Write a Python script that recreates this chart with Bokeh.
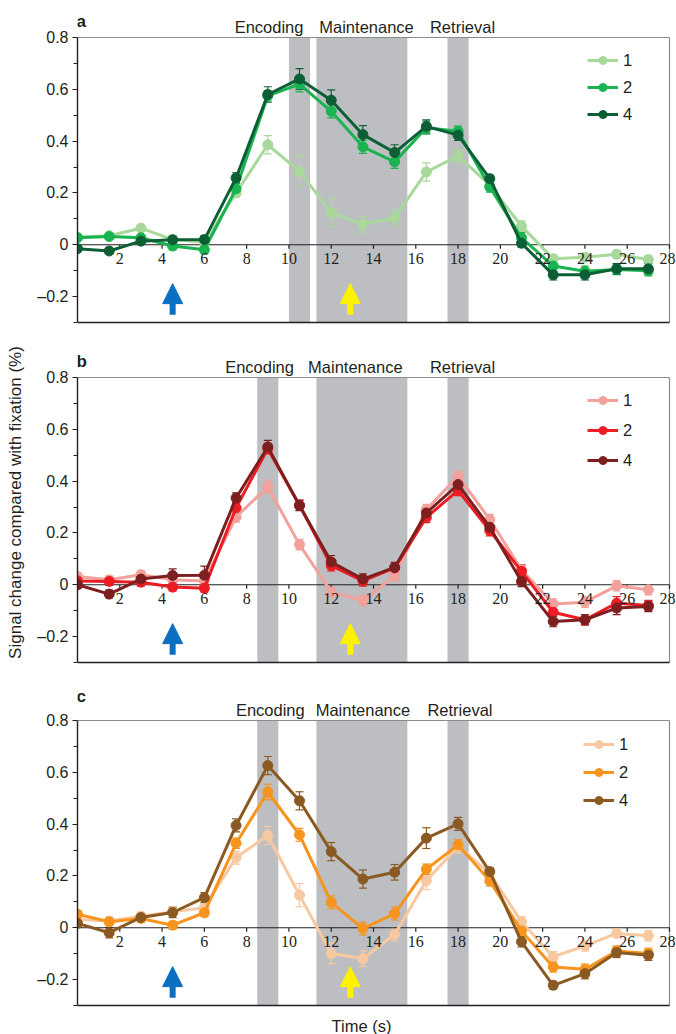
import math
from bokeh.plotting import figure
from bokeh.models import (Range1d, FixedTicker, Span, BoxAnnotation, Label, LabelSet, Legend,
                          LegendItem, Whisker, TeeHead, Arrow, NormalHead, ColumnDataSource,
                          CustomJSTickFormatter)
from bokeh.layouts import column
from bokeh.embed import file_html
from bokeh.resources import INLINE

FONT = "Liberation Sans"
INK = "#231f20"
SHADE = "#bcbec1"
FRAME_GRAY = "#8c8c8c"

# ---------------- data ----------------
time_s = [0, 1.5, 3, 4.5, 6, 7.5, 9, 10.5, 12, 13.5, 15, 16.5, 18, 19.5, 21, 22.5, 24, 25.5, 27]
load_labels = ["1", "2", "4"]

x_tick_values = [2, 4, 6, 8, 10, 12, 14, 16, 18, 20, 22, 24, 26, 28]
x_tick_labels = ["2", "4", "6", "8", "10", "12", "14", "16", "18", "20", "22", "24", "26", "28"]
y_tick_values = [-0.2, 0, 0.2, 0.4, 0.6, 0.8]
y_minor_values = [-0.3, -0.1, 0.1, 0.3, 0.5, 0.7]
x_limits = [0, 28]
y_limits = [-0.3, 0.8]

phase_names = ["Encoding", "Maintenance", "Retrieval"]
encoding_window_a = [10, 11]
encoding_window_bc = [8.5, 9.5]
maintenance_window = [11.3, 15.6]
retrieval_window = [17.5, 18.5]
cue_times = [4.5, 12.9]
cue_colors = ["#0a6fc0", "#fff200"]

# panel a (green)
a_load1 = [0.03, 0.035, 0.064, 0.02, 0.01, 0.20, 0.386, 0.283, 0.124, 0.079, 0.104, 0.281, 0.343, 0.23, 0.072, -0.054, -0.048, -0.037, -0.057]
a_load2 = [0.027, 0.032, 0.027, -0.005, -0.019, 0.216, 0.575, 0.62, 0.515, 0.378, 0.32, 0.452, 0.438, 0.223, 0.027, -0.082, -0.102, -0.095, -0.10]
a_load4 = [-0.015, -0.024, 0.014, 0.019, 0.02, 0.258, 0.58, 0.64, 0.558, 0.425, 0.356, 0.457, 0.423, 0.255, 0.006, -0.116, -0.116, -0.093, -0.093]
a_err1 = [0.01, 0.01, 0.01, 0.01, 0.01, 0.015, 0.035, 0.06, 0.055, 0.03, 0.03, 0.035, 0.025, 0.02, 0.02, 0.015, 0.015, 0.015, 0.015]
a_err2 = [0.01, 0.01, 0.01, 0.015, 0.015, 0.02, 0.02, 0.03, 0.025, 0.025, 0.025, 0.025, 0.02, 0.02, 0.02, 0.02, 0.02, 0.02, 0.02]
a_err4 = [0.01, 0.01, 0.01, 0.015, 0.015, 0.02, 0.03, 0.04, 0.04, 0.035, 0.03, 0.025, 0.02, 0.015, 0.015, 0.02, 0.02, 0.02, 0.02]

# panel b (red)
b_load1 = [0.032, 0.019, 0.039, 0.019, 0.015, 0.262, 0.378, 0.155, -0.028, -0.061, 0.035, 0.29, 0.419, 0.252, 0.058, -0.074, -0.067, -0.004, -0.019]
b_load2 = [0.015, 0.013, 0.01, -0.009, -0.013, 0.297, 0.525, 0.307, 0.074, 0.015, 0.065, 0.26, 0.364, 0.209, 0.052, -0.106, -0.135, -0.071, -0.08]
b_load4 = [0.0, -0.036, 0.022, 0.036, 0.037, 0.335, 0.532, 0.306, 0.088, 0.022, 0.067, 0.277, 0.387, 0.222, 0.013, -0.142, -0.135, -0.09, -0.084]
b_err1 = [0.015, 0.015, 0.015, 0.015, 0.015, 0.02, 0.025, 0.02, 0.02, 0.02, 0.02, 0.02, 0.02, 0.02, 0.02, 0.02, 0.02, 0.02, 0.02]
b_err2 = [0.015, 0.015, 0.015, 0.015, 0.015, 0.02, 0.02, 0.02, 0.02, 0.02, 0.02, 0.02, 0.02, 0.02, 0.025, 0.025, 0.02, 0.025, 0.02]
b_err4 = [0.015, 0.015, 0.015, 0.025, 0.035, 0.02, 0.025, 0.02, 0.025, 0.02, 0.02, 0.02, 0.02, 0.02, 0.02, 0.02, 0.02, 0.025, 0.02]

# panel c (orange)
c_load1 = [0.032, 0.026, 0.045, 0.062, 0.077, 0.271, 0.356, 0.126, -0.099, -0.119, -0.026, 0.182, 0.314, 0.21, 0.023, -0.112, -0.07, -0.022, -0.031]
c_load2 = [0.052, 0.023, 0.036, 0.01, 0.058, 0.326, 0.524, 0.359, 0.098, -0.003, 0.055, 0.226, 0.32, 0.181, -0.012, -0.151, -0.16, -0.09, -0.099]
c_load4 = [0.017, -0.019, 0.04, 0.059, 0.116, 0.395, 0.626, 0.49, 0.294, 0.188, 0.214, 0.346, 0.401, 0.217, -0.054, -0.222, -0.177, -0.095, -0.106]
c_err1 = [0.015, 0.015, 0.015, 0.02, 0.02, 0.025, 0.035, 0.045, 0.04, 0.03, 0.025, 0.035, 0.025, 0.02, 0.02, 0.02, 0.02, 0.015, 0.02]
c_err2 = [0.015, 0.015, 0.015, 0.015, 0.015, 0.02, 0.03, 0.025, 0.025, 0.025, 0.025, 0.02, 0.02, 0.02, 0.02, 0.02, 0.02, 0.02, 0.02]
c_err4 = [0.015, 0.02, 0.015, 0.02, 0.02, 0.025, 0.035, 0.035, 0.035, 0.035, 0.03, 0.04, 0.025, 0.015, 0.02, 0.015, 0.02, 0.02, 0.02]

colors_a = ["#a9d89b", "#19b34f", "#0c5f35"]
colors_b = ["#f2a19b", "#ec1c24", "#7d1f1f"]
colors_c = ["#f8c9a0", "#f7941e", "#8a5a22"]

# ---------------- geometry ----------------
W = 676
LEFT = 77
CORE_H = 285                     # px between y=0.8 and y=-0.3
Y_SCALE = CORE_H / (y_limits[1] - y_limits[0])
FRAME_W = W - LEFT               # frame runs to the canvas edge so "28" is not clipped
X_SCALE = 592 / (x_limits[1] - x_limits[0])


def make_panel(letter, series, errors, colors, enc, header, footer, bottom_border,
               phase_x, letter_dy, legend_loc, legend_spacing):
    y0 = y_limits[0] - footer / Y_SCALE
    y1 = y_limits[1] + header / Y_SCALE
    frame_h = CORE_H + header + footer
    height = frame_h + bottom_border
    p = figure(width=W, height=height,
               x_range=Range1d(x_limits[0], x_limits[0] + FRAME_W / X_SCALE),
               y_range=Range1d(y0, y1),
               x_axis_location=None, output_backend="svg", toolbar_location=None,
               min_border_left=LEFT, min_border_right=0,
               min_border_top=0, min_border_bottom=bottom_border)
    p.grid.visible = False
    p.outline_line_color = None
    p.background_fill_color = "white"
    p.border_fill_color = "white"

    ax = p.yaxis[0]
    ax.bounds = (y_limits[0], y_limits[1])
    ax.ticker = FixedTicker(ticks=y_tick_values, minor_ticks=y_minor_values)
    ax.formatter = CustomJSTickFormatter(code="""
        if (Math.abs(tick) < 1e-9) return '0';
        if (tick < 0) return '\u2013' + (-tick).toFixed(1);
        return tick.toFixed(1);
    """)
    ax.axis_line_color = INK
    ax.axis_line_width = 1.4
    ax.major_tick_line_color = INK
    ax.major_tick_line_width = 1.2
    ax.major_tick_out = 5
    ax.major_tick_in = 0
    ax.minor_tick_line_color = INK
    ax.minor_tick_line_width = 1.2
    ax.minor_tick_out = 4
    ax.minor_tick_in = 0
    ax.major_label_text_font = FONT
    ax.major_label_text_font_size = "16px"
    ax.major_label_text_color = INK
    ax.major_label_standoff = 4

    # phase shading
    for (l, r) in [enc, maintenance_window, retrieval_window]:
        p.add_layout(BoxAnnotation(left=l, right=r, bottom=y_limits[0], top=y_limits[1],
                                   fill_color=SHADE, fill_alpha=1, line_color=None,
                                   level="underlay"))

    # frame lines: gray top/right, black bottom, black zero axis
    p.segment(x0=[x_limits[0], x_limits[1]], y0=[y_limits[1], y_limits[0]],
              x1=[x_limits[1], x_limits[1]], y1=[y_limits[1], y_limits[1]],
              line_color=FRAME_GRAY, line_width=1.2)
    p.segment(x0=[x_limits[0]], y0=[y_limits[0]], x1=[x_limits[1]], y1=[y_limits[0]],
              line_color=INK, line_width=1.6)
    p.segment(x0=[x_limits[0]], y0=[0], x1=[x_limits[1]], y1=[0],
              line_color=INK, line_width=1.2)
    n = len(x_tick_values)
    p.segment(x0=x_tick_values, y0=[0] * n, x1=x_tick_values, y1=[-4 / Y_SCALE] * n,
              line_color=INK, line_width=1.2)
    xo = [0] * (n - 1) + [-2]
    p.add_layout(LabelSet(source=ColumnDataSource(dict(x=x_tick_values, y=[0] * n,
                                                       text=x_tick_labels, xo=xo)),
                          x="x", y="y", text="text", x_offset="xo", y_offset=-8,
                          text_align="center", text_baseline="top", text_font=FONT,
                          text_font_size="16px", text_color=INK))

    # cue arrows
    for t, c in zip(cue_times, cue_colors):
        p.add_layout(Arrow(end=NormalHead(size=20, fill_color=c, line_color=c, line_width=1),
                           x_start=t, y_start=-0.27, x_end=t, y_end=-0.15,
                           line_color=c, line_width=6))

    # series
    items = []
    for vals, errs, col, lab in zip(series, errors, colors, load_labels):
        src = ColumnDataSource(dict(t=time_s, v=vals,
                                    lo=[v - e for v, e in zip(vals, errs)],
                                    hi=[v + e for v, e in zip(vals, errs)]))
        p.add_layout(Whisker(base="t", lower="lo", upper="hi", source=src, line_color=col,
                             line_width=1.2,
                             upper_head=TeeHead(size=8, line_color=col, line_width=1.2),
                             lower_head=TeeHead(size=8, line_color=col, line_width=1.2)))
        rl = p.line("t", "v", source=src, line_color=col, line_width=3)
        rd = p.scatter("t", "v", source=src, size=10, fill_color=col, line_color=col)
        items.append(LegendItem(label=lab, renderers=[rl, rd]))

    leg = Legend(items=items, location=legend_loc, orientation="vertical",
                 background_fill_alpha=0, border_line_color=None, padding=0, margin=0,
                 spacing=legend_spacing, glyph_width=31, glyph_height=20, label_height=20,
                 label_standoff=5, label_text_font=FONT, label_text_font_size="16.5px",
                 label_text_color=INK)
    p.add_layout(leg)

    # phase names above the data area
    for name, x in zip(phase_names, phase_x):
        p.add_layout(Label(x=x, y=y_limits[1], y_offset=10.5, text=name, text_align="center",
                           text_baseline="alphabetic", text_font=FONT,
                           text_font_size="16.5px", text_color=INK))
    # panel letter
    p.add_layout(Label(x=-0.05, y=y_limits[1], y_offset=letter_dy, text=letter,
                       text_align="left", text_baseline="alphabetic", text_font=FONT,
                       text_font_size="17px", text_font_style="bold", text_color=INK))
    return p


pa = make_panel("a", [a_load1, a_load2, a_load4], [a_err1, a_err2, a_err4], colors_a,
                encoding_window_a, 37, 2, 16, [9.06, 13.67, 18.21], 16, (510, 200), 7)
pb = make_panel("b", [b_load1, b_load2, b_load4], [b_err1, b_err2, b_err4], colors_b,
                encoding_window_bc, 37, 2, 16, [8.61, 13.14, 18.21], 16.5, (510, 194), 10)
pc = make_panel("c", [c_load1, c_load2, c_load4], [c_err1, c_err2, c_err4], colors_c,
                encoding_window_bc, 40, 29, 0, [9.12, 13.5, 18.09], 24, (506, 224), 8)

pb.yaxis[0].axis_label = "Signal change compared with fixation (%)"
pb.yaxis[0].axis_label_text_font = FONT
pb.yaxis[0].axis_label_text_font_size = "17px"
pb.yaxis[0].axis_label_text_font_style = "normal"
pb.yaxis[0].axis_label_text_color = INK
pb.yaxis[0].axis_label_standoff = 9

pc.add_layout(Label(x=13.43, y=y_limits[0], y_offset=-20, text="Time (s)", text_align="center",
                    text_baseline="middle", text_font=FONT, text_font_size="16.5px",
                    text_color=INK))

layout = column(pa, pb, pc, spacing=0)
open("out.html", "w").write(file_html(layout, INLINE))
